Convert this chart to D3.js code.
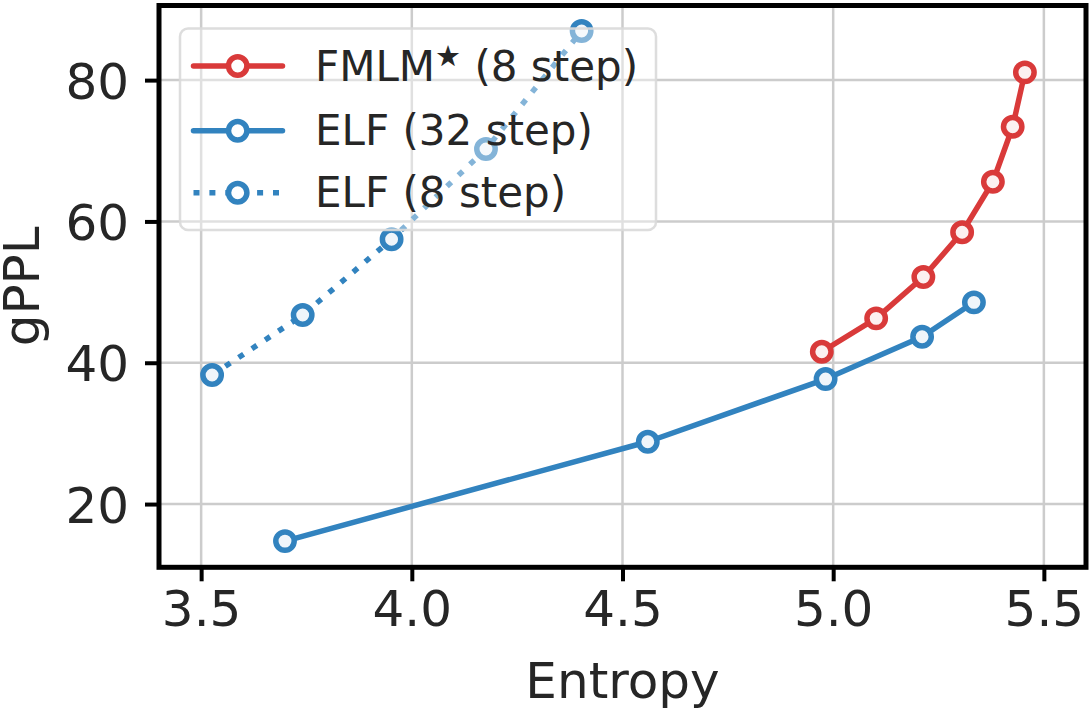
<!DOCTYPE html>
<html>
<head>
<meta charset="utf-8">
<script src="https://cdn.jsdelivr.net/npm/d3@7"></script>
<style>
  html, body { margin: 0; padding: 0; background: #fff; }
  svg { display: block; }
  text { font-family: "DejaVu Sans", sans-serif; fill: #262626; }
</style>
</head>
<body>
<svg id="chart" width="1091" height="718"></svg>
<script>
// ---- data ----
const fmlmEntropy = [4.973, 5.102, 5.214, 5.306, 5.379, 5.426, 5.455];
const fmlmGppl    = [41.56, 46.28, 52.13, 58.46, 65.62, 73.40, 81.10];
const elf32Entropy = [3.699, 4.560, 4.982, 5.211, 5.334];
const elf32Gppl    = [14.76, 28.82, 37.69, 43.68, 48.55];
const elf8Entropy = [3.526, 3.741, 3.952, 4.176, 4.403];
const elf8Gppl    = [38.26, 46.75, 57.47, 70.25, 86.95];
const xTicks = [3.5, 4.0, 4.5, 5.0, 5.5];
const yTicks = [20, 40, 60, 80];
const seriesNames = ["FMLM", "ELF (32 step)", "ELF (8 step)"];

const RED = "#d93a3a", BLUE = "#3283bf";

const svg = d3.select("#chart");
const L = 159, R = 1086, T = 5.5, B = 567.3;
const x = d3.scaleLinear().domain([3.4, 5.6]).range([L, R]);
const y = d3.scaleLinear().domain([11.05, 90.56]).range([B, T]);

// grid
const grid = svg.append("g");
xTicks.forEach(t => grid.append("line").attr("x1", x(t)).attr("x2", x(t)).attr("y1", T).attr("y2", B)
  .attr("stroke", "#cccccc").attr("stroke-width", 2.5));
yTicks.forEach(t => grid.append("line").attr("x1", L).attr("x2", R).attr("y1", y(t)).attr("y2", y(t))
  .attr("stroke", "#cccccc").attr("stroke-width", 2.5));

// axes
const xAxis = d3.axisBottom(x).tickValues(xTicks).tickFormat(d3.format(".1f")).tickSize(14).tickPadding(9);
const yAxis = d3.axisLeft(y).tickValues(yTicks).tickFormat(d3.format("d")).tickSize(14).tickPadding(16);
const gx = svg.append("g").attr("transform", `translate(0,${B})`).call(xAxis);
const gy = svg.append("g").attr("transform", `translate(${L},0)`).call(yAxis);
[gx, gy].forEach(g => {
  g.select(".domain").remove();
  g.selectAll(".tick line").attr("stroke", "#000").attr("stroke-width", 4);
  g.selectAll(".tick text").attr("font-size", 50).attr("fill", "#262626")
    .style("font-family", "DejaVu Sans");
});
gx.selectAll(".tick text").attr("dy", "0.71em");
gy.selectAll(".tick text").attr("dy", "0.36em");

// series
const series = [
  {ex: fmlmEntropy, gy: fmlmGppl, color: RED, dash: null},
  {ex: elf32Entropy, gy: elf32Gppl, color: BLUE, dash: null},
  {ex: elf8Entropy, gy: elf8Gppl, color: BLUE, dash: "6,9.9"}
];
const line = d3.line().x(d => x(d[0])).y(d => y(d[1]));
series.forEach(s => {
  const pts = s.ex.map((v, i) => [v, s.gy[i]]);
  const g = svg.append("g");
  g.append("path").datum(pts).attr("d", line).attr("fill", "none")
    .attr("stroke", s.color).attr("stroke-width", 5.5)
    .attr("stroke-dasharray", s.dash).attr("stroke-linecap", s.dash ? "butt" : "round")
    .attr("stroke-linejoin", "round");
  g.selectAll("circle").data(pts).join("circle")
    .attr("cx", d => x(d[0])).attr("cy", d => y(d[1])).attr("r", 9.2)
    .attr("fill", "#ffffff").attr("stroke", s.color).attr("stroke-width", 5.5);
  g.selectAll("circle.tint").data(pts).join("circle").attr("class", "tint")
    .attr("cx", d => x(d[0])).attr("cy", d => y(d[1])).attr("r", 6.5)
    .attr("fill", s.color).attr("fill-opacity", 0.08);
});

// legend
const lg = svg.append("g");
lg.append("rect").attr("x", 180).attr("y", 28.5).attr("width", 476).attr("height", 201.5)
  .attr("rx", 8).attr("fill", "#ffffff").attr("fill-opacity", 0.4)
  .attr("stroke", "#d9d9d9").attr("stroke-width", 2.5).attr("stroke-opacity", 0.9);
const rows = [66, 130.7, 192.7];
series.forEach((s, i) => {
  const yy = rows[i];
  lg.append("line").attr("x1", 193.5).attr("x2", 282.5).attr("y1", yy).attr("y2", yy)
    .attr("stroke", s.color).attr("stroke-width", 5.5)
    .attr("stroke-dasharray", s.dash).attr("stroke-linecap", s.dash ? "butt" : "round");
  lg.append("circle").attr("cx", 237.7).attr("cy", yy).attr("r", 9.2)
    .attr("fill", "#fff").attr("stroke", s.color).attr("stroke-width", 5.5);
  const t = lg.append("text").attr("x", 315).attr("y", yy + 14.5).attr("font-size", 42);
  if (i === 0) {
    t.append("tspan").text("FMLM");
    t.append("tspan").attr("font-size", 29).attr("dy", -15).text("★");
    t.append("tspan").attr("font-size", 42).attr("dy", 15).text(" (8 step)");
  } else {
    t.text(seriesNames[i]);
  }
});

// frame
svg.append("rect").attr("x", L).attr("y", T).attr("width", R - L).attr("height", B - T)
  .attr("fill", "none").attr("stroke", "#000").attr("stroke-width", 5);

// axis labels
svg.append("text").attr("x", (L + R) / 2).attr("y", 698).attr("text-anchor", "middle")
  .attr("font-size", 50).text("Entropy");
svg.append("text").attr("transform", `translate(39,${(T + B) / 2}) rotate(-90)`)
  .attr("text-anchor", "middle").attr("font-size", 50).text("gPPL");
</script>
</body>
</html>
